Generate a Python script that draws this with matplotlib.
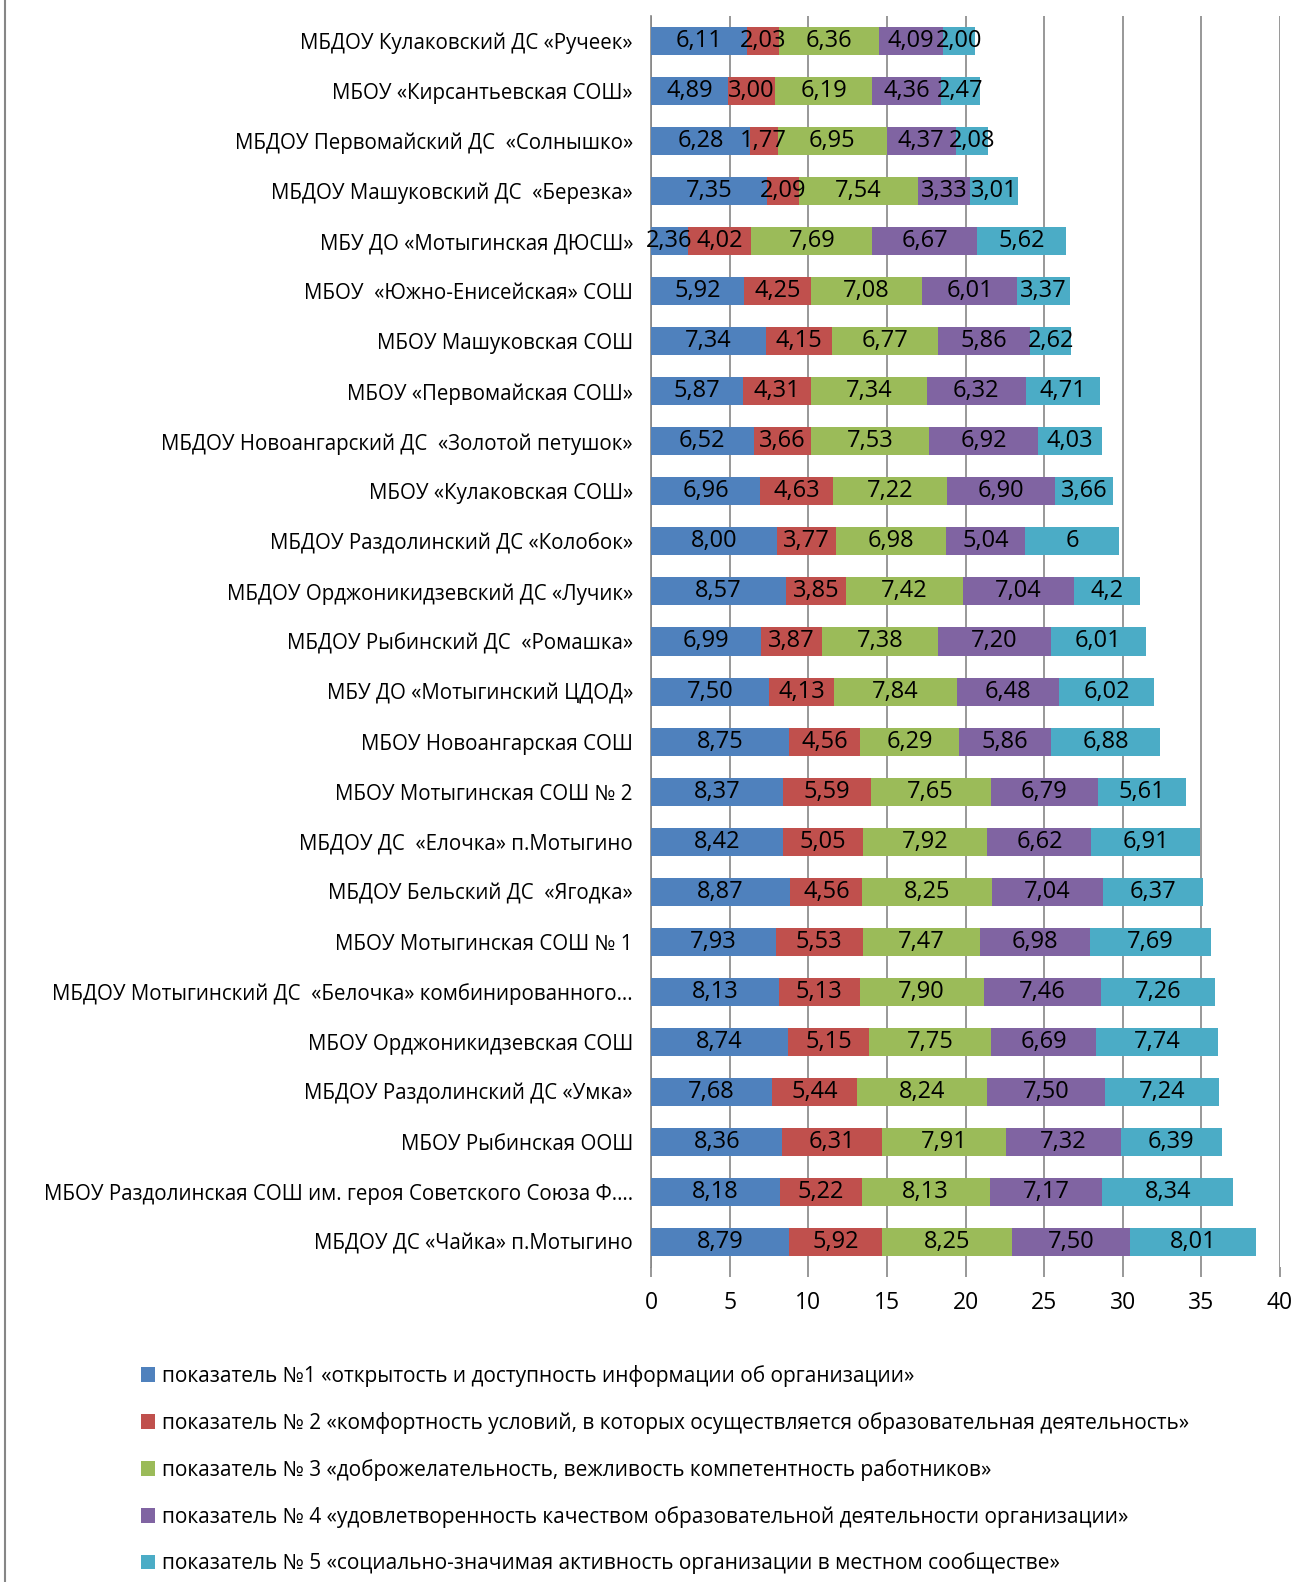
import matplotlib
matplotlib.use("Agg")
import matplotlib.pyplot as plt
from matplotlib.patches import Patch
from matplotlib.lines import Line2D
import numpy as np

plt.rcParams['font.family'] = ['Open Sans', 'DejaVu Sans']

# categories, top to bottom as in the picture
categories = [
    "МБДОУ Кулаковский ДС «Ручеек»",
    "МБОУ «Кирсантьевская СОШ»",
    "МБДОУ Первомайский ДС  «Солнышко»",
    "МБДОУ Машуковский ДС  «Березка»",
    "МБУ ДО «Мотыгинская ДЮСШ»",
    "МБОУ  «Южно-Енисейская» СОШ",
    "МБОУ Машуковская СОШ",
    "МБОУ «Первомайская СОШ»",
    "МБДОУ Новоангарский ДС  «Золотой петушок»",
    "МБОУ «Кулаковская СОШ»",
    "МБДОУ Раздолинский ДС «Колобок»",
    "МБДОУ Орджоникидзевский ДС «Лучик»",
    "МБДОУ Рыбинский ДС  «Ромашка»",
    "МБУ ДО «Мотыгинский ЦДОД»",
    "МБОУ Новоангарская СОШ",
    "МБОУ Мотыгинская СОШ № 2",
    "МБДОУ ДС  «Елочка» п.Мотыгино",
    "МБДОУ Бельский ДС  «Ягодка»",
    "МБОУ Мотыгинская СОШ № 1",
    "МБДОУ Мотыгинский ДС  «Белочка» комбинированного…",
    "МБОУ Орджоникидзевская СОШ",
    "МБДОУ Раздолинский ДС «Умка»",
    "МБОУ Рыбинская ООШ",
    "МБОУ Раздолинская СОШ им. героя Советского Союза Ф.…",
    "МБДОУ ДС «Чайка» п.Мотыгино",
]

# values as printed on the bars
p1 = ["6,11", "4,89", "6,28", "7,35", "2,36", "5,92", "7,34", "5,87", "6,52", "6,96",
      "8,00", "8,57", "6,99", "7,50", "8,75", "8,37", "8,42", "8,87", "7,93", "8,13",
      "8,74", "7,68", "8,36", "8,18", "8,79"]
p2 = ["2,03", "3,00", "1,77", "2,09", "4,02", "4,25", "4,15", "4,31", "3,66", "4,63",
      "3,77", "3,85", "3,87", "4,13", "4,56", "5,59", "5,05", "4,56", "5,53", "5,13",
      "5,15", "5,44", "6,31", "5,22", "5,92"]
p3 = ["6,36", "6,19", "6,95", "7,54", "7,69", "7,08", "6,77", "7,34", "7,53", "7,22",
      "6,98", "7,42", "7,38", "7,84", "6,29", "7,65", "7,92", "8,25", "7,47", "7,90",
      "7,75", "8,24", "7,91", "8,13", "8,25"]
p4 = ["4,09", "4,36", "4,37", "3,33", "6,67", "6,01", "5,86", "6,32", "6,92", "6,90",
      "5,04", "7,04", "7,20", "6,48", "5,86", "6,79", "6,62", "7,04", "6,98", "7,46",
      "6,69", "7,50", "7,32", "7,17", "7,50"]
p5 = ["2,00", "2,47", "2,08", "3,01", "5,62", "3,37", "2,62", "4,71", "4,03", "3,66",
      "6", "4,2", "6,01", "6,02", "6,88", "5,61", "6,91", "6,37", "7,69", "7,26",
      "7,74", "7,24", "6,39", "8,34", "8,01"]

series_names = [
    "показатель №1 «открытость и доступность информации об организации»",
    "показатель № 2 «комфортность условий, в которых осуществляется образовательная деятельность»",
    "показатель № 3 «доброжелательность, вежливость компетентность работников»",
    "показатель № 4 «удовлетворенность качеством образовательной деятельности организации»",
    "показатель № 5 «социально-значимая активность организации в местном сообществе»",
]
colors = ["#4F81BD", "#C0504D", "#9BBB59", "#8064A2", "#4BACC6"]

series = [p1, p2, p3, p4, p5]

fig = plt.figure(figsize=(13.15, 15.82), dpi=100)
ax = fig.add_axes([651 / 1315, 1 - 1267 / 1582, (1280 - 651) / 1315, (1267 - 16) / 1582])

y = np.arange(len(categories))
left = np.zeros(len(categories))
for texts, col in zip(series, colors):
    vals = np.array([float(t.replace(",", ".")) for t in texts])
    bars = ax.barh(y, vals, left=left, height=0.56, color=col, linewidth=0, zorder=3)
    ax.bar_label(bars, labels=texts, label_type="center", fontsize=17, color="black", zorder=4)
    left += vals

ax.set_xlim(0, 40)
ax.set_ylim(len(categories) - 0.5, -0.5)
ax.set_xticks(np.arange(0, 41, 5))
ax.set_yticks(y)
ax.set_yticklabels(categories, fontsize=14.8)
ax.tick_params(axis="y", length=0, pad=13)
ax.tick_params(axis="x", length=7, width=1.2, color="#868686", pad=10, labelsize=16.5)
ax.grid(axis="x", color="#868686", linewidth=1.2, zorder=0)
for s in ["top", "right"]:
    ax.spines[s].set_visible(False)
ax.spines["bottom"].set_visible(False)
ax.spines["left"].set_color("#868686")
ax.spines["left"].set_linewidth(1.2)

# chart frame line at the left edge
fig.add_artist(Line2D([5 / 1315, 5 / 1315], [0, 1], color="#868686", linewidth=1.5))

handles = [Patch(facecolor=c, edgecolor="none") for c in colors]
fig.legend(handles, series_names, loc="upper left", bbox_to_anchor=(122 / 1315, 1 - 1346 / 1582),
           frameon=False, fontsize=15, handlelength=0.7, handleheight=0.7,
           handletextpad=0.3, labelspacing=1.2)

fig.savefig("out.png", dpi=100)
